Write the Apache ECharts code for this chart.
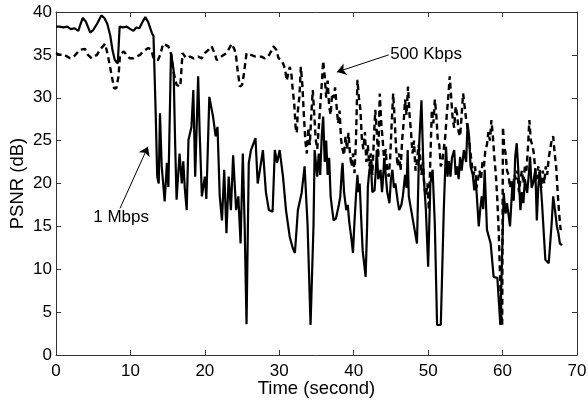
<!DOCTYPE html>
<html>
<head>
<meta charset="utf-8">
<title>PSNR</title>
<script src="https://cdn.jsdelivr.net/npm/echarts@6/dist/echarts.min.js"></script>
<style>
  html, body { margin: 0; padding: 0; background: #fff; }
  #chart { width: 588px; height: 400px; }
</style>
</head>
<body>
<div id="chart"></div>
<script type="text/javascript">
// 1 Mbps 曲线 (实线), [时间 s, PSNR dB]
var mbpsData = [
  [0, 38.3], [0.5, 38.3], [1.0, 38.2], [1.5, 38.3], [2.0, 38.0], [2.5, 38.1], [3.0, 37.8], [3.3, 38.6], [3.6, 39.3], [4.0, 38.9],
  [4.6, 37.6], [5.0, 37.9], [5.5, 38.6], [6.1, 39.6], [6.5, 39.3], [6.9, 38.6], [7.3, 37.2], [7.6, 35.5], [7.9, 34.4], [8.3, 34.0],
  [8.55, 38.3], [9.0, 38.2], [9.5, 38.3], [10.0, 38.0], [10.4, 37.8], [10.8, 38.2], [11.2, 38.1], [11.6, 38.8], [12.0, 39.4], [12.4, 38.8],
  [12.9, 37.5], [13.1, 37.2], [13.4, 28.0], [13.6, 20.8], [13.8, 20.0], [13.97, 28.2], [14.2, 22.0], [14.4, 20.0], [14.6, 17.9], [14.9, 22.4],
  [15.1, 19.6], [15.45, 35.2], [15.8, 33.2], [16.0, 25.0], [16.2, 18.1], [16.6, 23.5], [16.9, 20.0], [17.1, 22.6], [17.3, 19.5], [17.56, 16.9],
  [17.8, 25.1], [18.2, 26.6], [18.45, 30.9], [18.7, 20.8], [19.1, 32.5], [19.3, 26.0], [19.6, 18.5], [20.0, 20.8], [20.2, 18.2], [20.6, 30.1],
  [21.1, 27.8], [21.45, 25.5], [21.7, 26.6], [22.0, 18.5], [22.3, 15.7], [22.6, 21.6], [22.9, 14.2], [23.2, 20.8], [23.5, 16.9], [23.8, 23.3],
  [24.2, 16.9], [24.5, 18.5], [24.8, 13.0], [25.1, 23.5], [25.35, 15.0], [25.6, 3.6], [25.9, 22.4], [26.2, 23.9], [26.8, 25.3], [27.1, 20.0],
  [27.4, 21.6], [27.8, 23.9], [28.2, 19.0], [28.6, 16.9], [29.1, 16.7], [29.4, 23.9], [29.7, 22.4], [30.05, 23.9], [30.5, 20.8], [30.9, 16.9],
  [31.4, 13.8], [31.8, 12.5], [32.1, 11.9], [32.5, 16.9], [33.0, 18.9], [33.4, 22.0], [33.8, 15.2], [34.2, 3.5], [34.6, 15.2], [34.75, 23.9],
  [35.1, 20.8], [35.3, 23.5], [35.5, 21.0], [35.7, 25.5], [35.9, 27.8], [36.1, 22.5], [36.3, 25.0], [36.5, 21.0], [36.7, 23.0], [36.9, 18.5],
  [37.1, 17.0], [37.3, 15.7], [37.6, 15.9], [37.85, 15.7], [38.0, 17.5], [38.2, 18.5], [38.4, 21.5], [38.5, 22.4], [38.7, 19.0], [39.0, 16.9],
  [39.2, 17.5], [39.4, 15.5], [39.7, 13.5], [39.9, 11.9], [40.1, 15.5], [40.3, 18.5], [40.5, 21.0], [40.65, 19.0], [40.8, 20.0], [41.0, 16.0],
  [41.2, 12.2], [41.6, 9.1], [41.8, 15.0], [41.9, 19.6], [42.1, 21.5], [42.3, 22.4], [42.5, 19.0], [42.8, 19.2], [43.0, 22.0], [43.1, 23.9],
  [43.3, 20.5], [43.6, 21.6], [43.8, 19.0], [43.9, 20.0], [44.1, 23.0], [44.3, 22.8], [44.5, 19.0], [44.8, 17.7], [45.0, 20.5], [45.2, 21.6],
  [45.4, 19.5], [45.6, 20.0], [45.9, 18.0], [46.1, 16.9], [46.4, 17.5], [46.6, 18.5], [46.9, 21.0], [47.1, 19.5], [47.25, 23.9], [47.4, 18.5],
  [48.1, 15.0], [48.5, 13.0], [48.8, 24.7], [49.1, 29.7], [49.4, 20.8], [49.7, 16.9], [50.0, 10.3], [50.3, 20.0], [50.6, 21.6], [50.9, 15.2],
  [51.2, 3.5], [51.7, 3.5], [52.1, 16.9], [52.4, 24.3], [52.6, 20.8], [52.8, 22.6], [53.0, 20.8], [53.2, 23.0], [53.5, 23.9], [53.7, 21.0],
  [53.9, 22.0], [54.1, 20.5], [54.3, 23.1], [54.5, 21.5], [54.8, 23.9], [55.1, 22.5], [55.3, 27.0], [55.5, 25.5], [55.7, 22.0], [56.0, 21.0],
  [56.2, 19.2], [56.4, 20.5], [56.6, 17.7], [56.8, 15.0], [57.0, 17.0], [57.2, 18.5], [57.4, 17.0], [57.6, 21.6], [57.9, 14.6], [58.4, 13.0],
  [58.8, 9.1], [59.3, 9.0], [59.7, 3.5], [59.9, 3.5], [60.15, 18.9], [60.4, 16.5], [60.6, 17.7], [61.0, 15.0], [61.3, 19.6], [61.5, 18.0],
  [61.7, 23.1], [61.9, 24.7], [62.1, 21.8], [62.4, 16.9], [62.6, 19.0], [62.8, 17.7], [63.0, 20.5], [63.3, 18.9], [63.5, 20.8], [63.7, 23.1],
  [63.9, 19.5], [64.1, 20.0], [64.4, 21.6], [64.6, 15.7], [64.8, 19.6], [65.0, 21.6], [65.3, 17.7], [65.75, 11.1], [66.2, 10.7], [66.6, 15.4],
  [66.8, 18.5], [67.1, 16.5], [67.3, 15.0], [67.5, 14.2], [67.7, 13.0], [68.0, 12.8]
];

// 500 Kbps 曲线 (虚线)
var kbpsData = [
  [0, 35.2], [0.5, 35.0], [1.0, 35.1], [1.5, 34.8], [1.9, 34.6], [2.5, 34.9], [3.2, 35.6], [3.9, 35.7], [4.3, 35.0], [4.8, 34.6],
  [5.5, 35.0], [5.9, 35.6], [6.6, 36.3], [7.0, 34.8], [7.5, 32.5], [7.8, 31.1], [8.1, 31.1], [8.4, 32.5], [8.6, 35.0], [9.1, 35.4],
  [9.5, 35.0], [9.9, 34.6], [10.4, 34.6], [10.8, 34.8], [11.3, 35.0], [11.7, 35.4], [12.4, 35.8], [12.8, 35.6], [13.1, 34.6], [13.7, 34.4],
  [14.0, 35.0], [14.4, 36.3], [15.1, 36.0], [15.5, 35.0], [15.8, 33.0], [16.2, 31.5], [16.7, 31.3], [17.0, 35.2], [17.5, 34.6], [18.0, 34.8],
  [18.5, 34.6], [19.1, 34.8], [19.6, 34.6], [20.0, 35.2], [20.5, 35.6], [20.9, 36.0], [21.3, 35.2], [21.6, 34.4], [22.2, 34.8], [22.9, 35.2],
  [23.3, 35.8], [23.6, 36.3], [24.0, 35.6], [24.2, 34.8], [24.4, 33.2], [24.7, 31.3], [25.0, 31.5], [25.2, 32.5], [25.6, 35.2], [26.2, 35.0],
  [26.8, 34.8], [27.6, 34.8], [28.0, 34.6], [28.5, 34.8], [28.9, 35.4], [29.2, 36.0], [29.6, 35.6], [29.9, 34.6], [30.3, 34.4], [30.6, 33.8],
  [30.8, 33.2], [31.0, 32.0], [31.2, 31.9], [31.4, 33.6], [31.6, 33.0], [31.8, 31.0], [32.0, 29.4], [32.2, 26.5], [32.35, 25.9], [32.5, 28.5],
  [32.7, 30.1], [32.9, 33.6], [33.1, 31.5], [33.3, 28.0], [33.5, 25.0], [33.7, 23.5], [33.9, 26.5], [34.1, 24.5], [34.3, 28.0], [34.5, 30.9],
  [34.7, 28.0], [34.9, 25.1], [35.1, 24.0], [35.3, 26.5], [35.5, 29.0], [35.7, 31.5], [35.9, 34.3], [36.1, 32.5], [36.3, 30.0], [36.5, 32.0],
  [36.7, 29.0], [36.9, 28.0], [37.1, 30.5], [37.3, 30.0], [37.5, 31.2], [37.7, 29.0], [37.9, 27.0], [38.1, 28.5], [38.3, 25.1], [38.5, 24.0],
  [38.7, 23.3], [38.9, 25.5], [39.1, 24.0], [39.3, 25.9], [39.5, 23.5], [39.7, 22.0], [39.9, 23.5], [40.1, 21.2], [40.3, 25.0], [40.5, 32.1],
  [40.7, 30.0], [40.9, 28.6], [41.1, 25.1], [41.3, 24.0], [41.5, 26.0], [41.7, 22.5], [41.9, 24.5], [42.1, 22.0], [42.3, 23.5], [42.5, 21.0],
  [42.7, 25.0], [42.9, 28.6], [43.1, 26.0], [43.3, 23.0], [43.5, 30.5], [43.7, 27.0], [43.9, 25.0], [44.1, 22.5], [44.3, 24.0], [44.5, 21.5],
  [44.7, 20.8], [44.9, 23.0], [45.1, 27.0], [45.3, 30.5], [45.5, 27.5], [45.7, 24.0], [45.9, 22.0], [46.1, 23.5], [46.3, 21.5], [46.5, 25.0],
  [46.7, 27.0], [46.9, 29.8], [47.1, 28.0], [47.3, 31.3], [47.5, 28.0], [47.7, 26.0], [47.9, 23.5], [48.1, 25.0], [48.3, 21.5], [48.5, 22.5],
  [48.7, 24.5], [48.9, 23.5], [49.1, 21.0], [49.3, 22.5], [49.5, 19.5], [49.7, 18.5], [49.9, 20.0], [50.1, 16.9], [50.3, 23.0], [50.5, 28.6],
  [50.7, 27.0], [50.9, 29.8], [51.1, 28.0], [51.3, 25.0], [51.5, 24.5], [51.7, 22.0], [51.9, 22.5], [52.1, 24.0], [52.3, 25.5], [52.5, 28.0],
  [52.7, 30.0], [52.9, 32.5], [53.1, 30.0], [53.3, 27.5], [53.5, 26.5], [53.7, 29.0], [53.9, 28.0], [54.1, 26.0], [54.3, 25.5], [54.5, 28.0],
  [54.7, 30.5], [54.9, 29.0], [55.1, 27.5], [55.3, 26.5], [55.5, 25.0], [55.7, 23.5], [55.9, 22.0], [56.1, 21.0], [56.3, 22.0], [56.5, 19.5],
  [56.7, 20.5], [56.9, 21.5], [57.1, 20.5], [57.3, 22.5], [57.5, 22.0], [57.7, 24.0], [57.9, 24.5], [58.1, 26.0], [58.3, 25.0], [58.5, 27.4],
  [58.7, 25.5], [58.9, 23.0], [59.1, 21.0], [59.3, 18.0], [59.5, 14.0], [59.7, 8.0], [59.85, 4.5], [59.95, 3.5], [60.05, 26.6], [60.2, 24.5],
  [60.4, 23.5], [60.6, 21.5], [60.8, 21.0], [61.0, 19.5], [61.2, 20.5], [61.4, 19.5], [61.6, 21.0], [61.8, 20.5], [62.0, 21.5], [62.2, 19.0],
  [62.4, 20.5], [62.6, 21.5], [62.8, 20.0], [63.0, 22.0], [63.2, 21.5], [63.4, 24.0], [63.6, 27.4], [63.8, 25.0], [64.0, 24.5], [64.2, 23.5],
  [64.4, 21.5], [64.6, 20.5], [64.8, 22.0], [65.0, 21.0], [65.2, 19.5], [65.4, 21.5], [65.6, 20.0], [65.8, 22.0], [66.0, 21.0], [66.2, 23.0],
  [66.4, 24.0], [66.6, 25.1], [66.8, 25.5], [67.0, 23.5], [67.2, 22.0], [67.4, 19.0], [67.6, 16.5], [67.8, 14.6], [68.0, 15.0]
];

// 注释文字和箭头 (数据坐标)
var labelNames = ["1 Mbps", "500 Kbps"];
var labelPos = [[5.0, 16.0], [44.9, 35.1]];
var arrowFrom = [[8.6, 17.1], [44.7, 35.0]];
var arrowTo = [[12.35, 24.3], [37.75, 33.0]];

var FONT = "Liberation Sans";
var chart = echarts.init(document.getElementById("chart"));

// 四边都画框和朝内的刻度，跟 matlab 的图一样
var boxAxis = {
  axisLine: { show: true, onZero: false, lineStyle: { color: "#333", width: 1 } },
  axisTick: { show: true, inside: true, length: 5, lineStyle: { color: "#333", width: 1 } },
  splitLine: { show: false }
};

var option = {
  animation: false,
  backgroundColor: "#fff",
  grid: { left: 56, right: 11, top: 12, bottom: 45, containLabel: false, outerBoundsMode: "none" },
  xAxis: [
    Object.assign({
      type: "value", min: 0, max: 70, interval: 10, position: "bottom",
      name: "Time (second)", nameLocation: "middle", nameGap: 24, nameMoveOverlap: false,
      nameTextStyle: { color: "#000", fontSize: 18.5, fontFamily: FONT },
      axisLabel: { color: "#000", fontSize: 17, fontFamily: FONT, margin: 8 }
    }, boxAxis),
    Object.assign({
      type: "value", min: 0, max: 70, interval: 10, position: "top",
      axisLabel: { show: false }
    }, boxAxis)
  ],
  yAxis: [
    Object.assign({
      type: "value", min: 0, max: 40, interval: 5, position: "left",
      name: "PSNR (dB)", nameLocation: "middle", nameGap: 29, nameMoveOverlap: false,
      nameTextStyle: { color: "#000", fontSize: 18.5, fontFamily: FONT },
      axisLabel: { color: "#000", fontSize: 17, fontFamily: FONT, margin: 4 }
    }, boxAxis),
    Object.assign({
      type: "value", min: 0, max: 40, interval: 5, position: "right",
      axisLabel: { show: false }
    }, boxAxis)
  ],
  series: [
    {
      name: "500 Kbps",
      type: "line",
      data: kbpsData,
      showSymbol: false,
      lineStyle: { color: "#000", width: 2.4, type: [6, 4] }
    },
    {
      name: "1 Mbps",
      type: "line",
      data: mbpsData,
      showSymbol: false,
      lineStyle: { color: "#000", width: 2.2 },
      markLine: {
        silent: true,
        symbol: ["none", "arrow"],
        symbolSize: 9,
        label: { show: false },
        lineStyle: { color: "#000", width: 1, type: "solid" },
        data: arrowFrom.map(function (p, i) {
          return [{ coord: p }, { coord: arrowTo[i] }];
        })
      }
    }
  ]
};
chart.setOption(option);

// 文字标注用 graphic，位置从数据坐标换算
chart.setOption({
  graphic: labelNames.map(function (name, i) {
    var px = chart.convertToPixel({ gridIndex: 0 }, labelPos[i]);
    return {
      type: "text",
      x: px[0],
      y: px[1],
      style: {
        text: name,
        fill: "#000",
        font: "17px " + FONT,
        verticalAlign: "middle"
      }
    };
  })
});
</script>
</body>
</html>
